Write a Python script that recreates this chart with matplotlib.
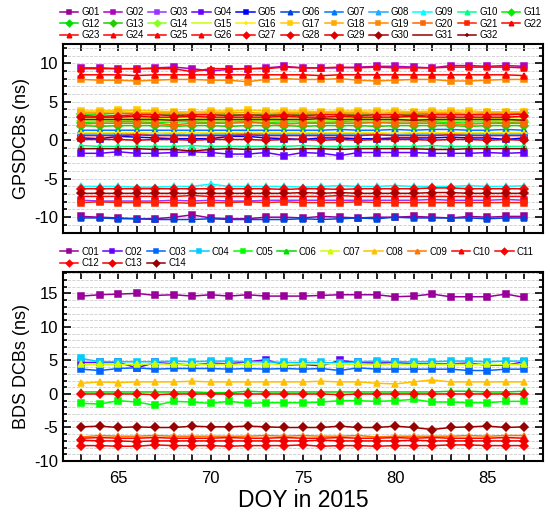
import numpy as np
import matplotlib
matplotlib.use("Agg")
import matplotlib.pyplot as plt
from matplotlib.ticker import MultipleLocator

plt.rcParams['font.family'] = ['Liberation Sans', 'DejaVu Sans']
plt.rcParams['axes.unicode_minus'] = False

doy = list(range(63, 88))

# GPS DCBs (ns), one list per satellite
g01 = [-9.9,-10.0,-10.1,-10.2,-10.2,-10.0,-9.7,-10.1,-10.2,-10.2,-10.0,-10.0,-10.1,-9.9,-10.0,-10.1,-10.0,-10.0,-9.9,-10.0,-10.1,-9.9,-10.0,-9.9,-9.9]
g02 = [9.4,9.4,9.3,9.3,9.4,9.5,9.3,9.0,9.2,9.3,9.4,9.6,9.4,9.4,9.4,9.5,9.6,9.6,9.5,9.4,9.7,9.7,9.6,9.7,9.6]
g03 = [-7.8,-7.9,-7.9,-7.9,-7.9,-7.8,-7.9,-7.8,-7.9,-7.9,-7.8,-7.8,-7.8,-7.8,-7.8,-7.8,-7.8,-7.8,-7.8,-7.7,-7.8,-7.8,-7.8,-7.7,-7.8]
g04 = [-1.7,-1.7,-1.5,-1.7,-1.7,-1.6,-1.5,-1.6,-1.8,-1.8,-1.6,-2.0,-1.6,-1.7,-2.0,-1.6,-1.6,-1.6,-1.6,-1.7,-1.7,-1.7,-1.6,-1.7,-1.6]
g05 = [0.3,0.2,0.5,0.4,0.3,0.2,0.2,0.2,0.5,0.5,0.3,0.2,0.1,0.3,0.3,0.2,0.2,0.3,0.3,0.3,0.4,0.3,0.3,0.1,0.3]
g06 = [-10.1,-10.1,-10.2,-10.2,-10.3,-10.3,-10.3,-10.2,-10.3,-10.3,-10.3,-10.3,-10.2,-10.3,-10.2,-10.1,-10.2,-10.0,-10.1,-10.1,-10.1,-10.1,-10.2,-10.1,-10.1]
g07 = [1.3,1.3,1.3,1.3,1.3,1.3,1.3,1.3,1.3,1.3,1.3,1.3,1.3,1.3,1.4,1.3,1.3,1.4,1.3,1.4,1.4,1.3,1.3,1.4,1.3]
g08 = [0.8,0.8,0.8,0.8,0.8,0.8,0.7,0.8,0.8,0.8,0.8,0.8,0.8,0.8,0.8,0.8,0.8,0.8,0.8,0.8,0.8,0.8,0.8,0.8,0.8]
g09 = [-6.0,-6.0,-6.0,-6.1,-6.1,-6.0,-6.0,-5.7,-6.0,-6.0,-6.0,-6.0,-6.1,-6.0,-5.9,-6.0,-6.0,-5.9,-6.0,-6.0,-6.0,-5.9,-6.0,-6.0,-5.9]
g10 = [-0.7,-0.8,-0.8,-0.8,-0.8,-0.8,-0.7,-0.8,-0.8,-0.8,-0.8,-0.8,-0.7,-0.8,-0.8,-0.8,-0.8,-0.8,-0.8,-0.7,-0.8,-0.8,-0.8,-0.8,-0.8]
g11 = [2.3,2.4,2.4,2.4,2.3,2.4,2.4,2.3,2.4,2.4,2.3,2.4,2.4,2.3,2.4,2.4,2.3,2.4,2.4,2.4,2.3,2.4,2.4,2.3,2.4]
g12 = [3.4,3.4,3.5,3.5,3.4,3.4,3.4,3.4,3.4,3.3,3.4,3.4,3.4,3.4,3.4,3.4,3.4,3.4,3.4,3.5,3.5,3.4,3.5,3.5,3.5]
g13 = [1.9,1.8,1.9,1.9,1.9,1.8,1.9,1.9,1.8,1.9,1.9,1.9,1.8,1.9,1.9,1.9,1.8,1.9,1.9,1.9,1.9,1.8,1.9,1.9,1.9]
g14 = [2.5,2.5,2.6,2.6,2.5,2.5,2.6,2.5,2.5,2.6,2.6,2.5,2.5,2.5,2.6,2.5,2.5,2.5,2.5,2.6,2.5,2.5,2.5,2.6,2.5]
g15 = [2.9,2.9,2.9,2.9,2.8,2.9,2.9,2.9,2.9,2.9,2.8,2.9,2.9,2.9,2.9,2.8,2.9,2.9,2.9,2.9,2.9,2.9,2.8,2.9,2.9]
g16 = [1.0,1.0,1.0,1.0,0.9,1.0,1.0,1.0,1.0,1.1,1.0,1.0,1.0,1.0,1.0,1.0,1.0,0.9,1.0,1.0,1.0,1.0,1.0,1.0,1.0]
g17 = [3.8,3.8,3.9,3.9,3.8,3.7,3.7,3.8,3.8,3.9,3.8,3.8,3.8,3.7,3.8,3.8,3.8,3.8,3.7,3.8,3.8,3.8,3.7,3.7,3.7]
g18 = [3.6,3.6,3.7,3.6,3.6,3.6,3.5,3.6,3.6,3.6,3.5,3.6,3.6,3.6,3.6,3.6,3.5,3.6,3.6,3.6,3.6,3.5,3.6,3.6,3.6]
g19 = [7.9,7.8,7.8,7.7,7.8,7.9,7.9,7.8,7.8,7.6,7.9,8.0,7.9,7.9,8.0,7.8,7.7,7.8,7.9,7.9,7.7,7.7,7.8,7.9,7.9]
g20 = [2.1,2.2,2.2,2.2,2.2,2.0,2.2,2.2,2.2,2.3,2.2,2.1,2.2,2.2,2.2,2.2,2.3,2.2,2.2,2.2,2.1,2.1,2.2,2.2,2.2]
g21 = [-8.1,-8.0,-8.1,-8.1,-8.1,-8.1,-8.2,-8.1,-8.1,-8.0,-8.1,-8.0,-8.1,-8.1,-8.1,-8.0,-8.1,-8.1,-8.1,-8.1,-8.1,-8.1,-8.1,-8.1,-8.1]
g22 = [9.3,9.3,9.3,9.3,9.3,9.3,8.9,9.3,9.3,9.3,9.3,9.5,9.4,9.4,9.5,9.4,9.5,9.4,9.4,9.4,9.5,9.5,9.5,9.5,9.4]
g23 = [8.5,8.5,8.5,8.4,8.5,8.5,8.5,8.5,8.5,8.5,8.5,8.5,8.5,8.4,8.5,8.5,8.5,8.5,8.5,8.5,8.5,8.5,8.5,8.5,8.4]
g24 = [3.2,3.1,3.2,3.3,3.3,3.2,3.3,3.3,3.2,3.3,3.2,3.3,3.2,3.3,3.3,3.2,3.3,3.3,3.2,3.3,3.3,3.3,3.3,3.3,3.4]
g25 = [-7.3,-7.3,-7.3,-7.3,-7.3,-7.3,-7.2,-7.3,-7.3,-7.3,-7.3,-7.3,-7.3,-7.3,-7.2,-7.3,-7.3,-7.3,-7.3,-7.3,-7.3,-7.3,-7.3,-7.3,-7.3]
g26 = [0.6,0.6,0.6,0.7,0.6,0.6,0.6,0.6,0.6,0.7,0.6,0.6,0.6,0.6,0.6,0.6,0.7,0.6,0.6,0.6,0.7,0.6,0.6,0.6,0.6]
g27 = [-6.3,-6.3,-6.3,-6.3,-6.3,-6.3,-6.3,-6.3,-6.3,-6.3,-6.3,-6.4,-6.3,-6.3,-6.4,-6.3,-6.3,-6.3,-6.3,-6.2,-6.2,-6.3,-6.3,-6.3,-6.3]
g28 = [3.0,3.0,3.0,3.1,3.0,3.0,3.1,3.0,3.0,3.0,3.0,3.1,3.0,3.0,3.1,3.0,3.0,3.0,3.1,3.0,3.0,3.0,3.0,3.0,3.1]
g29 = [0.1,0.1,0.1,0.0,0.1,0.1,0.0,0.1,0.1,0.1,0.0,0.1,0.1,0.0,0.1,0.0,0.1,0.1,0.1,0.0,0.1,0.1,0.0,0.1,0.0]
g30 = [-6.9,-6.9,-6.9,-6.9,-6.9,-6.9,-6.9,-6.9,-6.9,-6.9,-6.9,-6.9,-6.8,-6.9,-6.8,-6.9,-6.9,-6.9,-6.9,-6.8,-6.8,-6.9,-6.9,-6.9,-6.9]
g31 = [2.7,2.7,2.7,2.7,2.7,2.6,2.7,2.7,2.7,2.7,2.7,2.7,2.7,2.8,2.7,2.7,2.7,2.7,2.6,2.7,2.7,2.7,2.7,2.7,2.6]
g32 = [-1.1,-1.1,-1.1,-1.1,-1.2,-1.2,-1.4,-1.2,-1.1,-1.2,-1.1,-1.2,-1.1,-1.1,-1.2,-1.1,-1.1,-1.1,-1.1,-1.2,-1.2,-1.1,-1.1,-1.1,-1.1]

gps_names = ['G%02d' % i for i in range(1, 33)]
gps_data = [g01, g02, g03, g04, g05, g06, g07, g08, g09, g10, g11, g12, g13, g14, g15, g16,
            g17, g18, g19, g20, g21, g22, g23, g24, g25, g26, g27, g28, g29, g30, g31, g32]

# BDS DCBs (ns)
c01 = [14.6,14.8,14.9,15.0,14.7,14.8,14.6,14.8,14.6,14.8,14.6,14.6,14.6,14.7,14.8,14.8,14.8,14.5,14.6,14.9,14.5,14.5,14.5,14.9,14.4]
c02 = [4.7,4.7,4.7,3.9,4.7,4.5,4.3,4.6,4.5,4.8,5.1,4.3,4.4,4.2,5.0,4.7,4.6,4.7,4.5,4.5,4.5,4.6,4.3,4.3,4.8]
c03 = [3.7,3.5,3.8,3.9,3.7,3.8,3.8,3.8,3.7,3.8,3.7,3.8,3.7,3.8,3.5,3.9,3.7,3.7,3.7,3.7,3.7,3.5,3.5,3.7,3.7]
c04 = [5.3,4.8,4.8,4.8,4.8,4.9,4.8,4.9,4.9,4.8,4.8,4.7,4.7,4.7,4.6,4.8,4.9,4.8,4.8,4.8,4.9,4.9,4.8,4.9,4.9]
c05 = [-1.4,-1.5,-1.0,-1.2,-1.7,-1.1,-1.2,-1.4,-1.1,-1.4,-1.3,-1.3,-1.3,-1.2,-1.0,-1.0,-1.1,-1.0,-0.8,-1.2,-1.2,-1.3,-1.3,-1.1,-1.1]
c06 = [0.3,0.3,0.3,0.3,0.3,0.3,0.3,0.2,0.2,0.4,0.3,0.3,0.3,0.3,0.3,0.3,0.3,0.3,0.3,0.3,0.4,0.4,0.3,0.3,0.4]
c07 = [4.4,4.4,4.4,4.4,4.5,4.4,4.4,4.4,4.4,4.4,4.5,4.4,4.5,4.5,4.5,4.4,4.4,4.4,4.4,4.4,4.4,4.4,4.4,4.4,4.4]
c08 = [1.6,1.8,1.7,1.8,1.8,1.8,1.9,1.8,1.8,1.8,1.8,1.8,1.8,1.9,1.8,1.8,1.6,1.5,1.8,2.1,1.8,1.8,1.8,1.8,1.8]
c09 = [-6.4,-6.2,-6.3,-6.3,-6.2,-6.3,-6.3,-6.3,-6.3,-6.3,-6.2,-6.3,-6.2,-6.3,-6.3,-6.2,-6.4,-6.3,-6.3,-6.3,-6.3,-6.2,-6.3,-6.2,-6.2]
c10 = [-6.6,-6.5,-6.6,-6.6,-6.5,-6.6,-6.6,-6.6,-6.5,-6.6,-6.6,-6.5,-6.6,-6.6,-6.5,-6.6,-6.6,-6.5,-6.6,-6.5,-6.6,-6.6,-6.6,-6.5,-6.6]
c11 = [0.0,0.0,0.0,0.0,-0.1,0.0,0.0,0.0,0.0,0.0,0.0,0.0,0.0,0.0,-0.1,0.0,0.0,0.0,0.0,0.0,0.0,0.0,0.0,0.0,0.0]
c12 = [-7.7,-7.7,-7.8,-7.8,-7.6,-7.7,-7.7,-7.7,-7.8,-7.7,-7.7,-7.7,-7.6,-7.8,-7.7,-7.7,-7.8,-7.7,-7.7,-7.7,-7.6,-7.6,-7.7,-7.7,-7.7]
c13 = [-6.9,-7.0,-7.0,-7.1,-7.0,-7.0,-7.0,-7.0,-7.0,-7.0,-7.0,-7.0,-7.0,-6.9,-7.0,-7.0,-7.0,-7.0,-6.9,-7.0,-7.0,-7.0,-7.0,-7.0,-7.0]
c14 = [-4.9,-4.8,-5.0,-4.9,-5.0,-5.0,-4.8,-4.9,-4.9,-4.8,-4.9,-5.0,-5.0,-5.0,-4.8,-5.0,-5.0,-4.8,-5.0,-5.3,-5.0,-4.9,-4.8,-5.0,-4.9]

bds_names = ['C%02d' % i for i in range(1, 15)]
bds_data = [c01, c02, c03, c04, c05, c06, c07, c08, c09, c10, c11, c12, c13, c14]

# styles
gps_colors = ['#990099', '#B000C0', '#9933FF', '#6600FF', '#0000FF', '#0044DD', '#0077FF', '#22AAFF',
              '#00FFFF', '#00FF88', '#00EE00', '#00DD00', '#22CC00', '#88FF22', '#CCFF00', '#FFEE00',
              '#FFCC00', '#FFAA00', '#FF8800', '#FF6600', '#FF2200', '#FF0000', '#FF0000', '#FF0000',
              '#FF0000', '#FF0000', '#FF0000', '#EE0000', '#DD0000', '#AA0000', '#990000', '#880000']
gps_markers = ['s'] * 5 + ['^'] * 5 + ['D'] * 4 + ['None', '+'] + \
              ['s'] * 5 + ['^'] * 5 + ['D'] * 4 + ['None', '+']
bds_colors = ['#990099', '#6600FF', '#0066FF', '#00CCFF', '#00FF00', '#00DD00', '#CCFF00',
              '#FFC000', '#FF7700', '#FF0000', '#FF0000', '#FF0000', '#EE0000', '#990000']
bds_markers = ['s'] * 5 + ['^'] * 5 + ['D'] * 4


def style_axes(ax, ymin, ymax):
    ax.set_xlim(62, 88)
    ax.set_ylim(ymin, ymax)
    ax.xaxis.set_major_locator(MultipleLocator(5))
    ax.xaxis.set_minor_locator(MultipleLocator(1))
    ax.yaxis.set_major_locator(MultipleLocator(5))
    ax.yaxis.set_minor_locator(MultipleLocator(1))
    ax.tick_params(which='both', direction='in', top=True, right=True, width=1.2, labelsize=12)
    ax.tick_params(axis='x', which='both', length=5, pad=7)
    ax.tick_params(axis='y', which='major', length=6)
    ax.tick_params(axis='y', which='minor', length=3)
    ax.grid(True, which='both', axis='y', ls='--', color='#CCCCCC', lw=0.6)
    ax.set_axisbelow(True)
    for sp in ax.spines.values():
        sp.set_linewidth(1.5)


def row_major(handles, labels, ncol):
    # legend fills columns first, so reorder to read across rows
    nrow = -(-len(handles) // ncol)
    order = [r * ncol + c for c in range(ncol) for r in range(nrow) if r * ncol + c < len(handles)]
    return [handles[i] for i in order], [labels[i] for i in order]


fig = plt.figure(figsize=(5.5, 5.18), dpi=100)
ax1 = fig.add_axes([0.1145, 0.551, 0.8725, 0.364])
ax2 = fig.add_axes([0.1145, 0.110, 0.8725, 0.365])

for name, vals, col, mk in zip(gps_names, gps_data, gps_colors, gps_markers):
    ax1.plot(doy, vals, color=col, marker=mk, ms=3.8, lw=1.1, mew=1.1, label=name)
for name, vals, col, mk in zip(bds_names, bds_data, bds_colors, bds_markers):
    ax2.plot(doy, vals, color=col, marker=mk, ms=3.8, lw=1.1, mew=1.1, label=name)

style_axes(ax1, -12, 12.5)
style_axes(ax2, -10, 18.2)
ax1.tick_params(labelbottom=False)
ax1.set_ylabel('GPSDCBs (ns)', fontsize=13, labelpad=3)
ax2.set_ylabel('BDS DCBs (ns)', fontsize=13, labelpad=3)
ax2.set_xlabel('DOY in 2015', fontsize=16.5, labelpad=2)

leg_kw = dict(ncol=11, loc='upper left', frameon=False, fontsize=7, handlelength=1.9,
              handletextpad=0.3, columnspacing=0.45, labelspacing=0.15, borderaxespad=0,
              markerscale=0.85)
h1, l1 = row_major(*ax1.get_legend_handles_labels(), 11)
h2, l2 = row_major(*ax2.get_legend_handles_labels(), 11)
ax1.legend(h1, l1, bbox_to_anchor=(-0.015, 1.215), **leg_kw)
ax2.legend(h2, l2, bbox_to_anchor=(-0.015, 1.155), **leg_kw)

fig.savefig('out.png', dpi=100)
